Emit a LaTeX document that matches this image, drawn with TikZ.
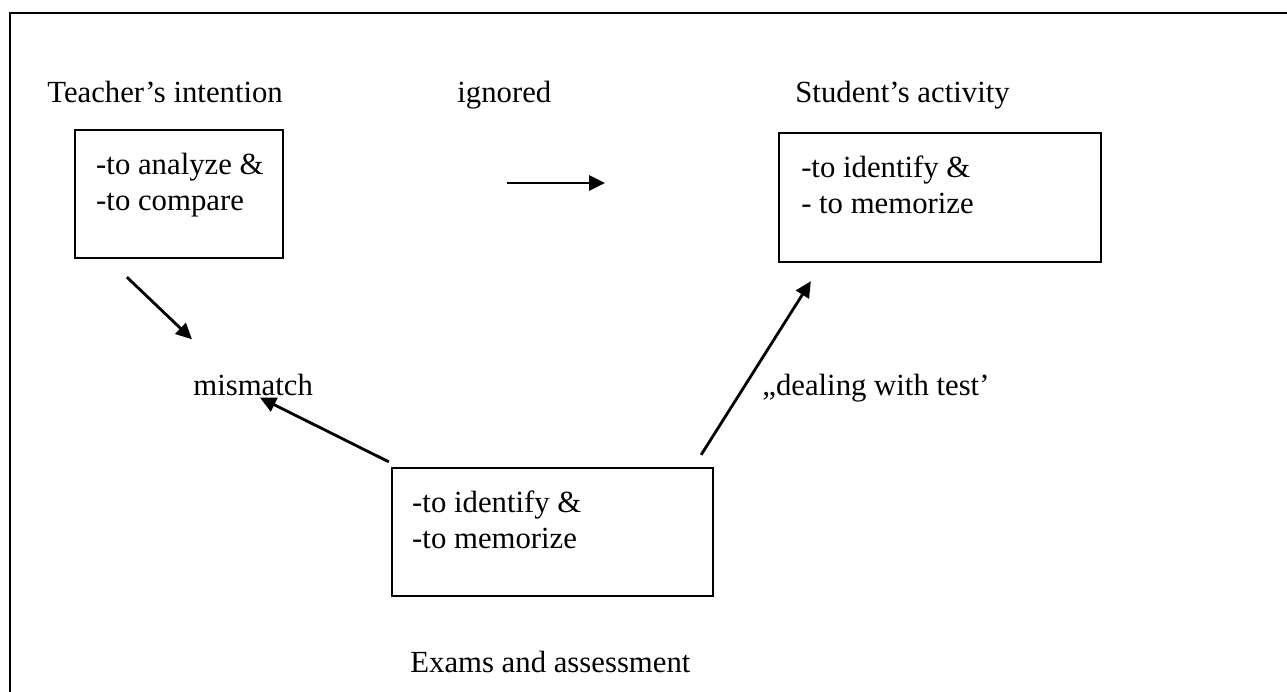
\documentclass[tikz,border=0pt]{standalone}
\usepackage{fontspec}
\setmainfont{Liberation Serif}
\usepackage{tikz}
\usetikzlibrary{positioning,arrows.meta}
\tikzstyle{arrow} = [line width=1.6pt,-{Triangle[length=0.32cm,width=0.3cm]}]
\tikzstyle{line} = [line width=1.5pt]

\begin{document}
\begin{tikzpicture}[x=0.02cm,y=-0.02cm]
\tikzset{%
	box/.style = {rectangle, draw=black, line width=1.3pt, inner sep=0pt},
	boxtext/.style = {align=left, inner sep=0pt, font=\fontsize{17.5}{20.5}\selectfont},
	label/.style = {anchor=base west, inner sep=0pt, font=\fontsize{17.5}{20.5}\selectfont}
}
\useasboundingbox (0,0) rectangle (1287,692);
\draw [line] (10,692) -- (10,13) -- (1287,13);

% titles
\node(teach) [label] at (47,103) {Teacher’s intention};
\node(ign) [label] at (457,103) {ignored};
\node(stud) [label] at (795,103) {Student’s activity};

% boxes
\node(b1) [box, minimum width=4.16cm, minimum height=2.56cm] at (179,194) {};
\node(b1t) [boxtext, below right=0.47cm and 0.44cm of b1.north west] {-to analyze \&\\-to compare};
\node(b2) [box, minimum width=6.44cm, minimum height=2.58cm] at (940,197.5) {};
\node(b2t) [boxtext, below right=0.47cm and 0.46cm of b2.north west] {-to identify \&\\- to memorize};
\node(b3) [box, minimum width=6.42cm, minimum height=2.56cm] at (552.5,532) {};
\node(b3t) [boxtext, below right=0.47cm and 0.42cm of b3.north west] {-to identify \&\\-to memorize};

\node(mm) [label] at (193,395) {mismatch};
\node(deal) [label] at (762,395) {„dealing with test’};
\node(exam) [label] at (410,672) {Exams and assessment};

\draw [arrow] ([shift={(50,80)}]ign.base west) -- ++(98,0);
\draw [arrow] ([shift={(53,18)}]b1.south west) -- ([shift={(-1,-34)}]mm.north west);
\draw [arrow] ([shift={(-2,-5)}]b3.north west) -- ([shift={(67,2)}]mm.south west);
\draw [arrow] ([shift={(-13,-12)}]b3.north east) -- ([shift={(33,18)}]b2.south west);
\end{tikzpicture}
\end{document}
